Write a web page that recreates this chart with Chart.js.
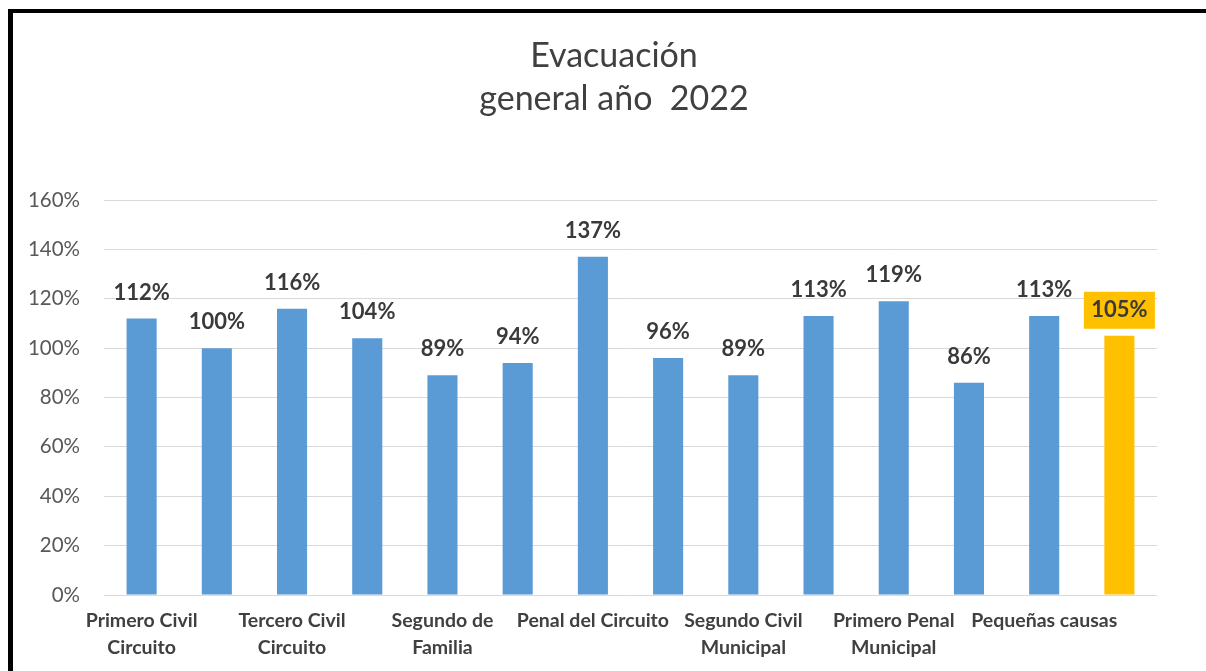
<!DOCTYPE html>
<html>
<head>
<meta charset="utf-8">
<script src="https://cdn.jsdelivr.net/npm/chart.js@4.4.1/dist/chart.umd.min.js"></script>
<style>
  html, body { margin: 0; padding: 0; background: #ffffff; }
  #wrap { position: relative; width: 1206px; height: 671px; overflow: hidden; background: #fff; }
  #frameLeft { position: absolute; left: 8px; top: 9px; width: 5px; height: 662px; background: #000; }
  #frameTop { position: absolute; left: 8px; top: 9px; width: 1198px; height: 4px; background: #000; }
  canvas { position: absolute; left: 0; top: 0; }
</style>
</head>
<body>
<div id="wrap">
  <canvas id="c" width="1206" height="671"></canvas>
  <div id="frameLeft"></div>
  <div id="frameTop"></div>
</div>
<script>
// ---- data ----
const titleLines = ["Evacuación", "general año  2022"];
const categories = [
  "Primero Civil Circuito",
  "Segundo Civil Circuito",
  "Tercero Civil Circuito",
  "Primero de Familia",
  "Segundo de Familia",
  "Tercero de Familia",
  "Penal del Circuito",
  "Primero Civil Municipal",
  "Segundo Civil Municipal",
  "Tercero Civil Municipal",
  "Primero Penal Municipal",
  "Segundo Penal Municipal",
  "Pequeñas causas",
  "General"
];
const tickLabels = [
  ["Primero Civil", "Circuito"],
  "",
  ["Tercero Civil", "Circuito"],
  "",
  ["Segundo de", "Familia"],
  "",
  "Penal del Circuito",
  "",
  ["Segundo Civil", "Municipal"],
  "",
  ["Primero Penal", "Municipal"],
  "",
  "Pequeñas causas",
  ""
];
const values = [112, 100, 116, 104, 89, 94, 137, 96, 89, 113, 119, 86, 113, 105];
const yTicks = [0, 20, 40, 60, 80, 100, 120, 140, 160];

// ---- styles ----
const BLUE = "#5B9BD5";
const GOLD = "#FFC000";
const highlightIndex = categories.length - 1;
const FONT = "Lato, 'Open Sans', sans-serif";

const titlePlugin = {
  id: "centeredTitle",
  afterDraw(chart) {
    const ctx = chart.ctx;
    ctx.save();
    ctx.font = "34px " + FONT;
    ctx.fillStyle = "#404040";
    ctx.textAlign = "center";
    ctx.textBaseline = "middle";
    titleLines.forEach((line, i) => ctx.fillText(line, 614, 56.5 + i * 42.5));
    ctx.restore();
  }
};

const dataLabelPlugin = {
  id: "dataLabels",
  afterDatasetsDraw(chart) {
    const ctx = chart.ctx;
    const meta = chart.getDatasetMeta(0);
    ctx.save();
    ctx.font = "bold 22px " + FONT;
    ctx.textAlign = "center";
    ctx.textBaseline = "middle";
    meta.data.forEach((bar, i) => {
      const txt = values[i] + "%";
      const cy = bar.y - 26;
      if (i === highlightIndex) {
        ctx.fillStyle = GOLD;
        ctx.fillRect(bar.x - 35.5, cy - 18, 71, 37);
      }
      ctx.fillStyle = "#3a3a3a";
      ctx.fillText(txt, bar.x, cy);
    });
    ctx.restore();
  }
};

new Chart(document.getElementById("c"), {
  type: "bar",
  data: {
    labels: categories,
    datasets: [{
      data: values,
      backgroundColor: values.map((v, i) => i === highlightIndex ? GOLD : BLUE),
      barPercentage: 0.4,
      categoryPercentage: 1.0
    }]
  },
  options: {
    responsive: false,
    animation: false,
    devicePixelRatio: 1,
    layout: { padding: { left: 0, right: 49, top: 200, bottom: 0 } },
    plugins: {
      legend: { display: false },
      tooltip: { enabled: false },
      title: { display: false }
    },
    scales: {
      x: {
        grid: { display: false, drawTicks: false },
        border: { display: false },
        ticks: {
          autoSkip: false,
          maxRotation: 0,
          minRotation: 0,
          padding: 13,
          color: "#404040",
          font: { family: FONT, size: 19.5, weight: "bold", lineHeight: 1.35 },
          callback: (val, i) => tickLabels[i]
        },
        afterFit(scale) { scale.height = 671 - 595; }
      },
      y: {
        min: 0,
        max: 160,
        afterBuildTicks(scale) { scale.ticks = yTicks.map(v => ({ value: v })); },
        grid: { color: "#d9d9d9", lineWidth: 1, drawTicks: false },
        border: { display: false },
        ticks: {
          padding: 24,
          color: "#595959",
          font: { family: FONT, size: 20.5, weight: "normal" },
          callback: v => v + "%"
        },
        afterFit(scale) { scale.width = 104; }
      }
    }
  },
  plugins: [dataLabelPlugin, titlePlugin]
});
</script>
</body>
</html>
